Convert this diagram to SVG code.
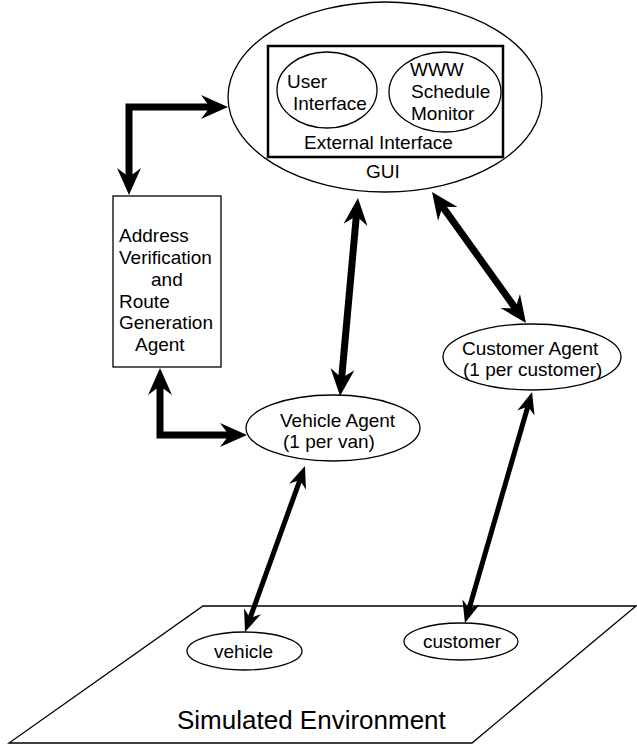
<svg xmlns="http://www.w3.org/2000/svg" width="637" height="745" viewBox="0 0 637 745">
<style>
text{font-family:"Liberation Sans",Arial,sans-serif;font-size:19px;fill:#000}
.sh{fill:#fff;stroke:#000;stroke-width:1.3}
.thick{fill:none;stroke:#000;stroke-width:7;stroke-linejoin:miter}
.thin{fill:none;stroke:#000;stroke-width:5}
</style>
<defs>
<marker id="ahB" markerUnits="userSpaceOnUse" viewBox="0 -15 30 30" markerWidth="30" markerHeight="30" refX="13" refY="0" orient="auto-start-reverse" overflow="visible">
<path d="M27,0 L0,-12 L9,0 L0,12 Z" fill="#000"/>
</marker>
<marker id="ahS" markerUnits="userSpaceOnUse" viewBox="0 -12 24 24" markerWidth="24" markerHeight="24" refX="10" refY="0" orient="auto-start-reverse" overflow="visible">
<path d="M22,0 L0,-9 L7,0 L0,9 Z" fill="#000"/>
</marker>
</defs>
<g id="environment">
<polygon points="203,606 636,606 472,743 9,743" class="sh" stroke-width="1.5"/>
<text x="177" y="729" style="font-size:26px">Simulated Environment</text>
</g>
<g id="gui">
<ellipse cx="385" cy="97" rx="157" ry="95" class="sh"/>
<rect x="268" y="46" width="235" height="111" fill="#fff" stroke="#000" stroke-width="2.5"/>
<text x="304" y="149">External Interface</text>
<text x="366" y="178">GUI</text>
</g>
<g id="user-interface">
<ellipse cx="327" cy="90" rx="50" ry="38" class="sh"/>
<text x="287" y="88">User</text>
<text x="293" y="110">Interface</text>
</g>
<g id="www-monitor">
<ellipse cx="445" cy="92" rx="56" ry="40" class="sh"/>
<text x="410" y="76">WWW</text>
<text x="411" y="98">Schedule</text>
<text x="411" y="120">Monitor</text>
</g>
<g id="address-agent">
<rect x="113" y="196" width="108" height="171" class="sh"/>
<text x="119" y="242">Address</text>
<text x="119" y="264">Verification</text>
<text x="151" y="286">and</text>
<text x="119" y="308">Route</text>
<text x="119" y="329">Generation</text>
<text x="135" y="351">Agent</text>
</g>
<g id="vehicle-agent">
<ellipse cx="333" cy="428" rx="87" ry="33" class="sh"/>
<text x="280" y="427">Vehicle Agent</text>
<text x="283" y="448">(1 per van)</text>
</g>
<g id="customer-agent">
<ellipse cx="532" cy="357" rx="89" ry="33" class="sh"/>
<text x="462" y="355">Customer Agent</text>
<text x="463" y="376">(1 per customer)</text>
</g>
<g id="vehicle">
<ellipse cx="244.5" cy="651" rx="57.5" ry="19" class="sh"/>
<text x="214" y="658">vehicle</text>
</g>
<g id="customer">
<ellipse cx="461" cy="641.5" rx="57" ry="18.5" class="sh"/>
<text x="423" y="648">customer</text>
</g>
<g id="connectors">
<path class="thick" d="M129,181 L129,107 L214,107" marker-start="url(#ahB)" marker-end="url(#ahB)"/>
<path class="thick" d="M160,382 L160,435 L233,435" marker-start="url(#ahB)" marker-end="url(#ahB)"/>
<path class="thick" d="M356.7,211.9 L341.3,382.1" marker-start="url(#ahB)" marker-end="url(#ahB)"/>
<path class="thick" d="M440.2,203.4 L517.8,311.6" marker-start="url(#ahB)" marker-end="url(#ahB)"/>
<path class="thin" d="M300.9,477.3 L249.1,620.7" marker-start="url(#ahS)" marker-end="url(#ahS)"/>
<path class="thin" d="M528.7,403.5 L468.3,611.5" marker-start="url(#ahS)" marker-end="url(#ahS)"/>
</g>
</svg>
